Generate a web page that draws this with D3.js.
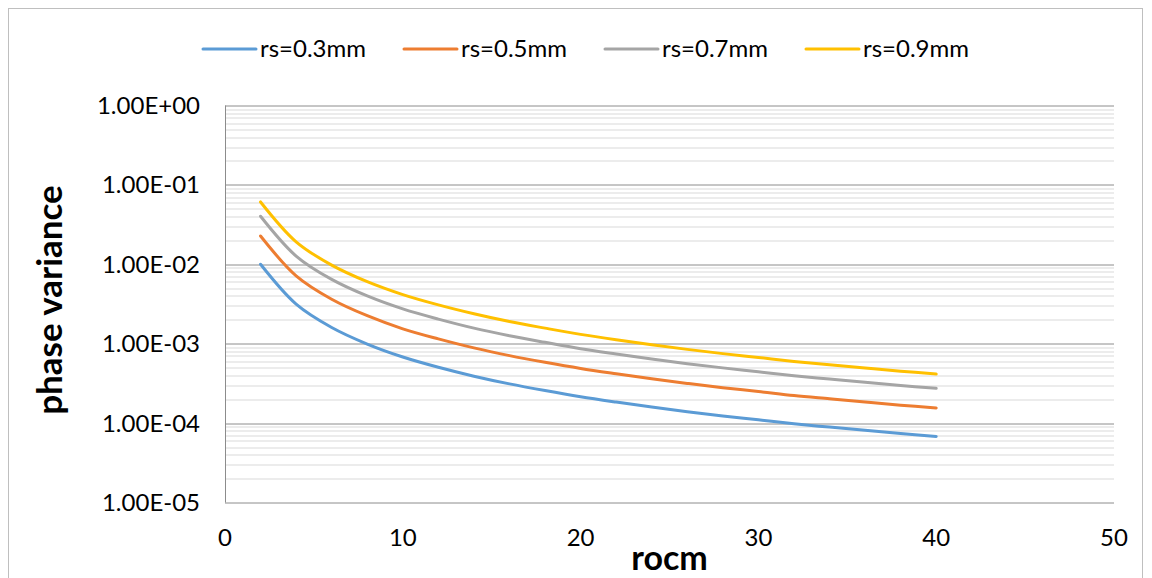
<!DOCTYPE html>
<html>
<head>
<meta charset="utf-8">
<script src="https://cdn.jsdelivr.net/npm/d3@7"></script>
<style>
  body { margin: 0; background: #fff; }
  text { font-family: Lato, "Open Sans", sans-serif; fill: #000; }
</style>
</head>
<body>
<div id="chart"></div>
<script>
// rocm values (x) and phase variance per source radius
var rocm = [2, 4, 6, 8, 10, 12, 14, 16, 18, 20, 22, 24, 26, 28, 30, 32, 34, 36, 38, 40];
var rs03 = [1.00e-2, 3.15e-3, 1.60e-3, 9.9e-4, 6.8e-4, 5.05e-4, 3.9e-4, 3.12e-4, 2.57e-4, 2.15e-4,
            1.84e-4, 1.59e-4, 1.39e-4, 1.23e-4, 1.10e-4, 9.8e-5, 8.9e-5, 8.1e-5, 7.4e-5, 6.8e-5];
var rs05 = [2.27e-2, 7.15e-3, 3.63e-3, 2.25e-3, 1.54e-3, 1.15e-3, 8.85e-4, 7.08e-4, 5.83e-4, 4.88e-4,
            4.18e-4, 3.61e-4, 3.16e-4, 2.79e-4, 2.50e-4, 2.22e-4, 2.02e-4, 1.84e-4, 1.68e-4, 1.55e-4];
var rs07 = [4.03e-2, 1.27e-2, 6.45e-3, 3.99e-3, 2.74e-3, 2.04e-3, 1.57e-3, 1.26e-3, 1.04e-3, 8.66e-4,
            7.42e-4, 6.41e-4, 5.60e-4, 4.96e-4, 4.43e-4, 3.95e-4, 3.59e-4, 3.26e-4, 2.98e-4, 2.74e-4];
var rs09 = [6.1e-2, 1.92e-2, 9.76e-3, 6.04e-3, 4.15e-3, 3.08e-3, 2.38e-3, 1.90e-3, 1.57e-3, 1.31e-3,
            1.12e-3, 9.70e-4, 8.48e-4, 7.50e-4, 6.71e-4, 5.98e-4, 5.43e-4, 4.94e-4, 4.51e-4, 4.15e-4];
var seriesNames = ["rs=0.3mm", "rs=0.5mm", "rs=0.7mm", "rs=0.9mm"];
var xTicks = [0, 10, 20, 30, 40, 50];
var yTicks = [1e0, 1e-1, 1e-2, 1e-3, 1e-4, 1e-5];

var outwidth = 1152, outheight = 578;
var margin = { left: 225, top: 105.5, right: 38, bottom: 75.5 };
var width = outwidth - margin.left - margin.right;
var height = outheight - margin.top - margin.bottom;
var colors = ["#5B9BD5", "#ED7D31", "#A5A5A5", "#FFC000"];
var seriesVals = [rs03, rs05, rs07, rs09];

var root = d3.select("#chart").append("svg")
    .attr("width", outwidth)
    .attr("height", outheight);

root.append("rect")
    .attr("x", 8.5).attr("y", 8.5)
    .attr("width", 1134).attr("height", 620)
    .attr("fill", "none")
    .attr("stroke", "#bfbfbf");

var svg = root.append("g")
    .attr("transform", `translate(${margin.left},${margin.top})`);

var x = d3.scaleLinear().domain([0, 50]).range([0, width]);
var y = d3.scaleLog().domain([1e-5, 1]).range([height, 0]);

// minor grid (2..9 in each decade)
var minor = [];
for (var e = -5; e < 0; e++) {
    for (var m = 2; m <= 9; m++) minor.push(m * Math.pow(10, e));
}
svg.selectAll(".minor")
    .data(minor)
    .join("line")
    .attr("class", "minor")
    .attr("x1", 0).attr("x2", width)
    .attr("y1", d => Math.round(y(d)) + 0.5)
    .attr("y2", d => Math.round(y(d)) + 0.5)
    .attr("stroke", "#d9d9d9")
    .attr("stroke-width", 1);

// major grid
svg.selectAll(".major")
    .data(yTicks)
    .join("line")
    .attr("class", "major")
    .attr("x1", 0).attr("x2", width)
    .attr("y1", d => Math.round(y(d)) + 0.5)
    .attr("y2", d => Math.round(y(d)) + 0.5)
    .attr("stroke", "#8c8c8c")
    .attr("stroke-width", 1);

// left axis line
svg.append("line")
    .attr("x1", 0.5).attr("x2", 0.5)
    .attr("y1", 0).attr("y2", height)
    .attr("stroke", "#8c8c8c");

// y tick labels
svg.selectAll(".y-lab")
    .data(yTicks)
    .join("text")
    .attr("class", "y-lab")
    .attr("x", -25)
    .attr("y", d => y(d))
    .attr("dy", "0.35em")
    .attr("text-anchor", "end")
    .style("font-size", "24px")
    .text(d => d3.format(".2e")(d).replace("e", "E").replace(/E([+-])(\d)$/, "E$10$2"));

// x tick labels
svg.selectAll(".x-lab")
    .data(xTicks)
    .join("text")
    .attr("class", "x-lab")
    .attr("x", d => x(d))
    .attr("y", height + 35)
    .attr("dy", "0.35em")
    .attr("text-anchor", "middle")
    .style("font-size", "24px")
    .text(d => d);

// axis titles
svg.append("text")
    .attr("x", x(25))
    .attr("y", height + 56)
    .attr("dy", "0.35em")
    .attr("text-anchor", "middle")
    .style("font-size", "34px")
    .style("font-weight", "bold")
    .text("rocm");

svg.append("text")
    .attr("transform", `translate(${50 - margin.left},${300 - margin.top}) rotate(-90)`)
    .attr("dy", "0.35em")
    .attr("text-anchor", "middle")
    .style("font-size", "35px")
    .style("font-weight", "bold")
    .text("phase variance");

// series lines
var line = d3.line()
    .x((d, i) => x(rocm[i]))
    .y(d => y(d))
    .curve(d3.curveCatmullRom.alpha(0.5));

svg.selectAll(".series")
    .data(seriesVals)
    .join("path")
    .attr("class", "series")
    .attr("d", d => line(d))
    .attr("fill", "none")
    .attr("stroke", (d, i) => colors[i])
    .attr("stroke-width", 3)
    .attr("stroke-linecap", "round");

// legend
var legend = root.selectAll(".legend")
    .data(seriesNames)
    .join("g")
    .attr("class", "legend")
    .attr("transform", (d, i) => `translate(${203 + i * 201},49)`);
legend.append("line")
    .attr("x1", 0).attr("x2", 53)
    .attr("y1", 0).attr("y2", 0)
    .attr("stroke", (d, i) => colors[i])
    .attr("stroke-width", 3)
    .attr("stroke-linecap", "round");
legend.append("text")
    .attr("x", 57)
    .attr("dy", "0.35em")
    .style("font-size", "24px")
    .text(d => d);
</script>
</body>
</html>
